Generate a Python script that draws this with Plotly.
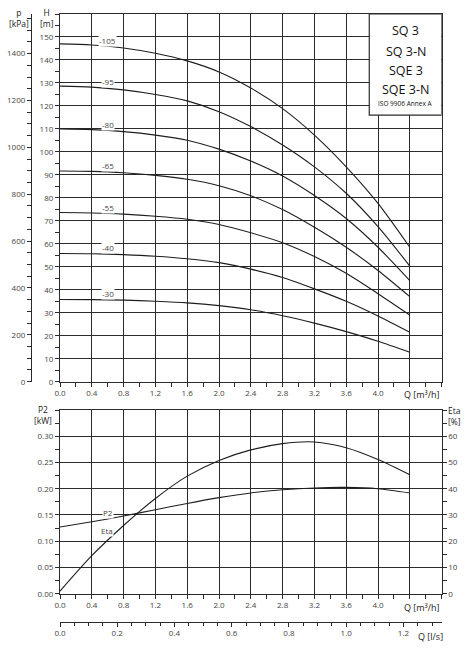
"""
SQ 3 pump performance curves (H / p, P2, Eta versus Q)
"""

import numpy as np
import plotly.graph_objects as go

W, HGT = 473, 655

# flow points [m3/h]
Q_M3H = [0.0, 0.4, 0.8, 1.2, 1.6, 2.0, 2.4, 2.8, 3.2, 3.6, 4.0, 4.4]

# head curves [m] per pump stage variant
STAGES = ["-105", "-95", "-80", "-65", "-55", "-40", "-30"]
HEAD_105 = [147.0, 146.5, 145.2, 142.9, 139.6, 134.8, 127.8, 118.8, 107.3, 93.5, 77.6, 58.5]
HEAD_95 = [128.6, 128.2, 127.0, 125.0, 122.2, 117.5, 111.0, 103.0, 93.5, 82.0, 67.5, 50.3]
HEAD_80 = [110.0, 109.7, 108.8, 107.3, 105.1, 101.2, 96.0, 89.5, 81.0, 71.0, 58.5, 44.0]
HEAD_65 = [91.7, 91.5, 90.9, 89.8, 88.1, 85.3, 80.9, 74.9, 67.2, 58.5, 48.4, 37.0]
HEAD_55 = [73.6, 73.4, 72.9, 72.0, 70.7, 68.4, 64.8, 60.5, 54.5, 47.2, 38.3, 29.0]
HEAD_40 = [55.8, 55.7, 55.3, 54.6, 53.5, 51.8, 49.0, 45.3, 40.4, 35.0, 28.6, 21.5]
HEAD_30 = [35.8, 35.7, 35.5, 35.0, 34.3, 33.1, 31.3, 28.7, 25.5, 21.8, 17.6, 12.8]
HEADS = [HEAD_105, HEAD_95, HEAD_80, HEAD_65, HEAD_55, HEAD_40, HEAD_30]

# power and efficiency
P2_KW = [0.127, 0.137, 0.148, 0.160, 0.172, 0.183, 0.192, 0.198, 0.2015, 0.2025, 0.200, 0.192]
ETA_PCT = [1.0, 14.5, 26.0, 36.3, 44.8, 50.8, 54.8, 57.2, 57.8, 55.6, 51.1, 45.3]

# ticks
H_TICKS = list(range(0, 160, 10))
P_TICKS = list(range(0, 1600, 200))
Q_TICKS = [0.0, 0.4, 0.8, 1.2, 1.6, 2.0, 2.4, 2.8, 3.2, 3.6, 4.0, 4.4, 4.8]
Q_LABELS = ["0.0", "0.4", "0.8", "1.2", "1.6", "2.0", "2.4", "2.8", "3.2", "3.6", "4.0", "", ""]
QLS_TICKS = [0.0, 0.2, 0.4, 0.6, 0.8, 1.0, 1.2]
P2_TICKS = [0.0, 0.05, 0.10, 0.15, 0.20, 0.25, 0.30]
ETA_TICKS = [0, 10, 20, 30, 40, 50, 60]
MODELS = ["SQ 3", "SQ 3-N", "SQE 3", "SQE 3-N"]

KPA_PER_M = 9.80665
LS_PER_M3H = 1 / 3.6

INK = "#1e1e1e"
GRID = "#2b2b2b"
TXT = "#444444"
FONT = "Open Sans"


def px(x):
    return x / W


def py(y):
    return 1 - y / HGT


def note(txt, x, y, size=9, color="#222222"):
    fig.add_annotation(x=px(x), y=py(y), xref="paper", yref="paper", text=txt,
                       xanchor="center", yanchor="middle", showarrow=False, align="center",
                       font=dict(family=FONT, size=size, color=color))


X_DOM = [px(60), px(441.6)]
TOP_DOM = [py(381.7), py(14)]
BOT_DOM = [py(593.7), py(410)]

fig = go.Figure()

for name, head in zip(STAGES, HEADS):
    fig.add_trace(go.Scatter(x=Q_M3H, y=head, mode="lines", xaxis="x", yaxis="y",
                             line=dict(color=INK, width=1.1, shape="spline", smoothing=0.8),
                             hoverinfo="skip", showlegend=False))
    fig.add_annotation(x=0.6, y=float(np.interp(0.6, Q_M3H, head)), xref="x", yref="y",
                       text=name, showarrow=False, yshift=6.5, bgcolor="white", borderpad=0,
                       xanchor="center", yanchor="middle",
                       font=dict(family=FONT, size=8, color=TXT))

# empty traces so the extra axes get drawn
fig.add_trace(go.Scatter(x=[], y=[], xaxis="x", yaxis="y3", showlegend=False))
fig.add_trace(go.Scatter(x=[], y=[], xaxis="x3", yaxis="y2", showlegend=False))

fig.add_trace(go.Scatter(x=Q_M3H, y=P2_KW, mode="lines", xaxis="x2", yaxis="y2",
                         line=dict(color=INK, width=1.1, shape="spline", smoothing=0.8),
                         hoverinfo="skip", showlegend=False))
fig.add_trace(go.Scatter(x=Q_M3H, y=ETA_PCT, mode="lines", xaxis="x2", yaxis="y4",
                         line=dict(color=INK, width=1.1, shape="spline", smoothing=0.8),
                         hoverinfo="skip", showlegend=False))

fig.add_annotation(x=0.6, y=float(np.interp(0.6, Q_M3H, P2_KW)), xref="x2", yref="y2",
                   text="P2", showarrow=False, yshift=6.5, bgcolor="white", borderpad=0,
                   xanchor="center", yanchor="middle",
                   font=dict(family=FONT, size=8, color=TXT))
fig.add_annotation(x=0.6, y=float(np.interp(0.6, Q_M3H, ETA_PCT)), xref="x2", yref="y4",
                   text="Eta", showarrow=False, yshift=10, xshift=-1, bgcolor="white", borderpad=0,
                   xanchor="center", yanchor="middle",
                   font=dict(family=FONT, size=8, color=TXT))

tickfont = dict(family=FONT, size=8, color=TXT)
common = dict(showline=True, linecolor=GRID, linewidth=1.2, ticks="outside", ticklen=4,
              tickcolor=GRID, tickwidth=1, tickfont=tickfont, zeroline=False, automargin=False)

fig.update_layout(
    width=W, height=HGT, autosize=False,
    margin=dict(l=0, r=0, t=0, b=0, pad=0, autoexpand=False),
    paper_bgcolor="white", plot_bgcolor="white",
    xaxis=dict(domain=X_DOM, anchor="y", range=[0, 4.8], tickvals=Q_TICKS, ticktext=Q_LABELS,
               showgrid=True, gridcolor=GRID, gridwidth=1.2, mirror=True,
               minor=dict(dtick=0.2, ticks="outside", ticklen=4, tickcolor=GRID, showgrid=False),
               **common),
    yaxis=dict(domain=TOP_DOM, anchor="x", range=[0, 160], tickvals=H_TICKS,
               showgrid=True, gridcolor=GRID, gridwidth=1.2, mirror=True,
               minor=dict(dtick=5, ticks="outside", ticklen=4, tickcolor=GRID, showgrid=False),
               **common),
    yaxis3=dict(overlaying="y", anchor="free", position=px(31), side="left",
                range=[0, 160 * KPA_PER_M], tickvals=P_TICKS, showgrid=False,
                minor=dict(dtick=50, ticks="outside", ticklen=4, tickcolor=GRID, showgrid=False),
                **common),
    xaxis2=dict(domain=X_DOM, anchor="y2", range=[0, 4.8], tickvals=Q_TICKS, ticktext=Q_LABELS,
                showgrid=True, gridcolor=GRID, gridwidth=1.2, mirror=True,
                minor=dict(dtick=0.2, ticks="outside", ticklen=4, tickcolor=GRID, showgrid=False),
                **common),
    yaxis2=dict(domain=BOT_DOM, anchor="x2", range=[0, 0.35], tickvals=P2_TICKS, tickformat=".2f",
                showgrid=True, gridcolor=GRID, gridwidth=1.2,
                minor=dict(dtick=0.025, ticks="outside", ticklen=4, tickcolor=GRID, showgrid=False),
                **common),
    yaxis4=dict(overlaying="y2", anchor="x2", side="right", range=[0, 70], tickvals=ETA_TICKS,
                showgrid=False,
                minor=dict(dtick=5, ticks="outside", ticklen=4, tickcolor=GRID, showgrid=False),
                **common),
    xaxis3=dict(overlaying="x2", anchor="free", position=py(621.7), side="bottom",
                range=[0, 4.8 * LS_PER_M3H], tickvals=QLS_TICKS, tickformat=".1f", showgrid=False,
                minor=dict(dtick=0.05, ticks="outside", ticklen=3, tickcolor=GRID, showgrid=False),
                **common),
)

# model box in the top right corner
fig.add_shape(type="rect", xref="x", yref="y", x0=3.89, x1=4.8, y0=116, y1=160,
              fillcolor="white", line=dict(color=GRID, width=1.2), layer="above")
for txt, ypos in zip(MODELS, [30.7, 51.7, 70.5, 89.5]):
    note(txt, 405.5, ypos, size=12.5, color="#111111")
note("ISO 9906 Annex A", 405.5, 103.5, size=6.5, color="#111111")

# axis titles
note("p<br>[kPa]", 19, 18.5, size=8.5)
note("H<br>[m]", 47, 18.5, size=8.5)
note("P2<br>[kW]", 43, 415, size=8.5)
note("Eta<br>[%]", 454, 416, size=8.5)
note("Q [m³/h]", 422, 394.5)
note("Q [m³/h]", 422, 607)
note("Q [l/s]", 430, 636)

fig.write_html("out.html", config={"displayModeBar": False},
               post_script="document.body.style.margin='0';")
